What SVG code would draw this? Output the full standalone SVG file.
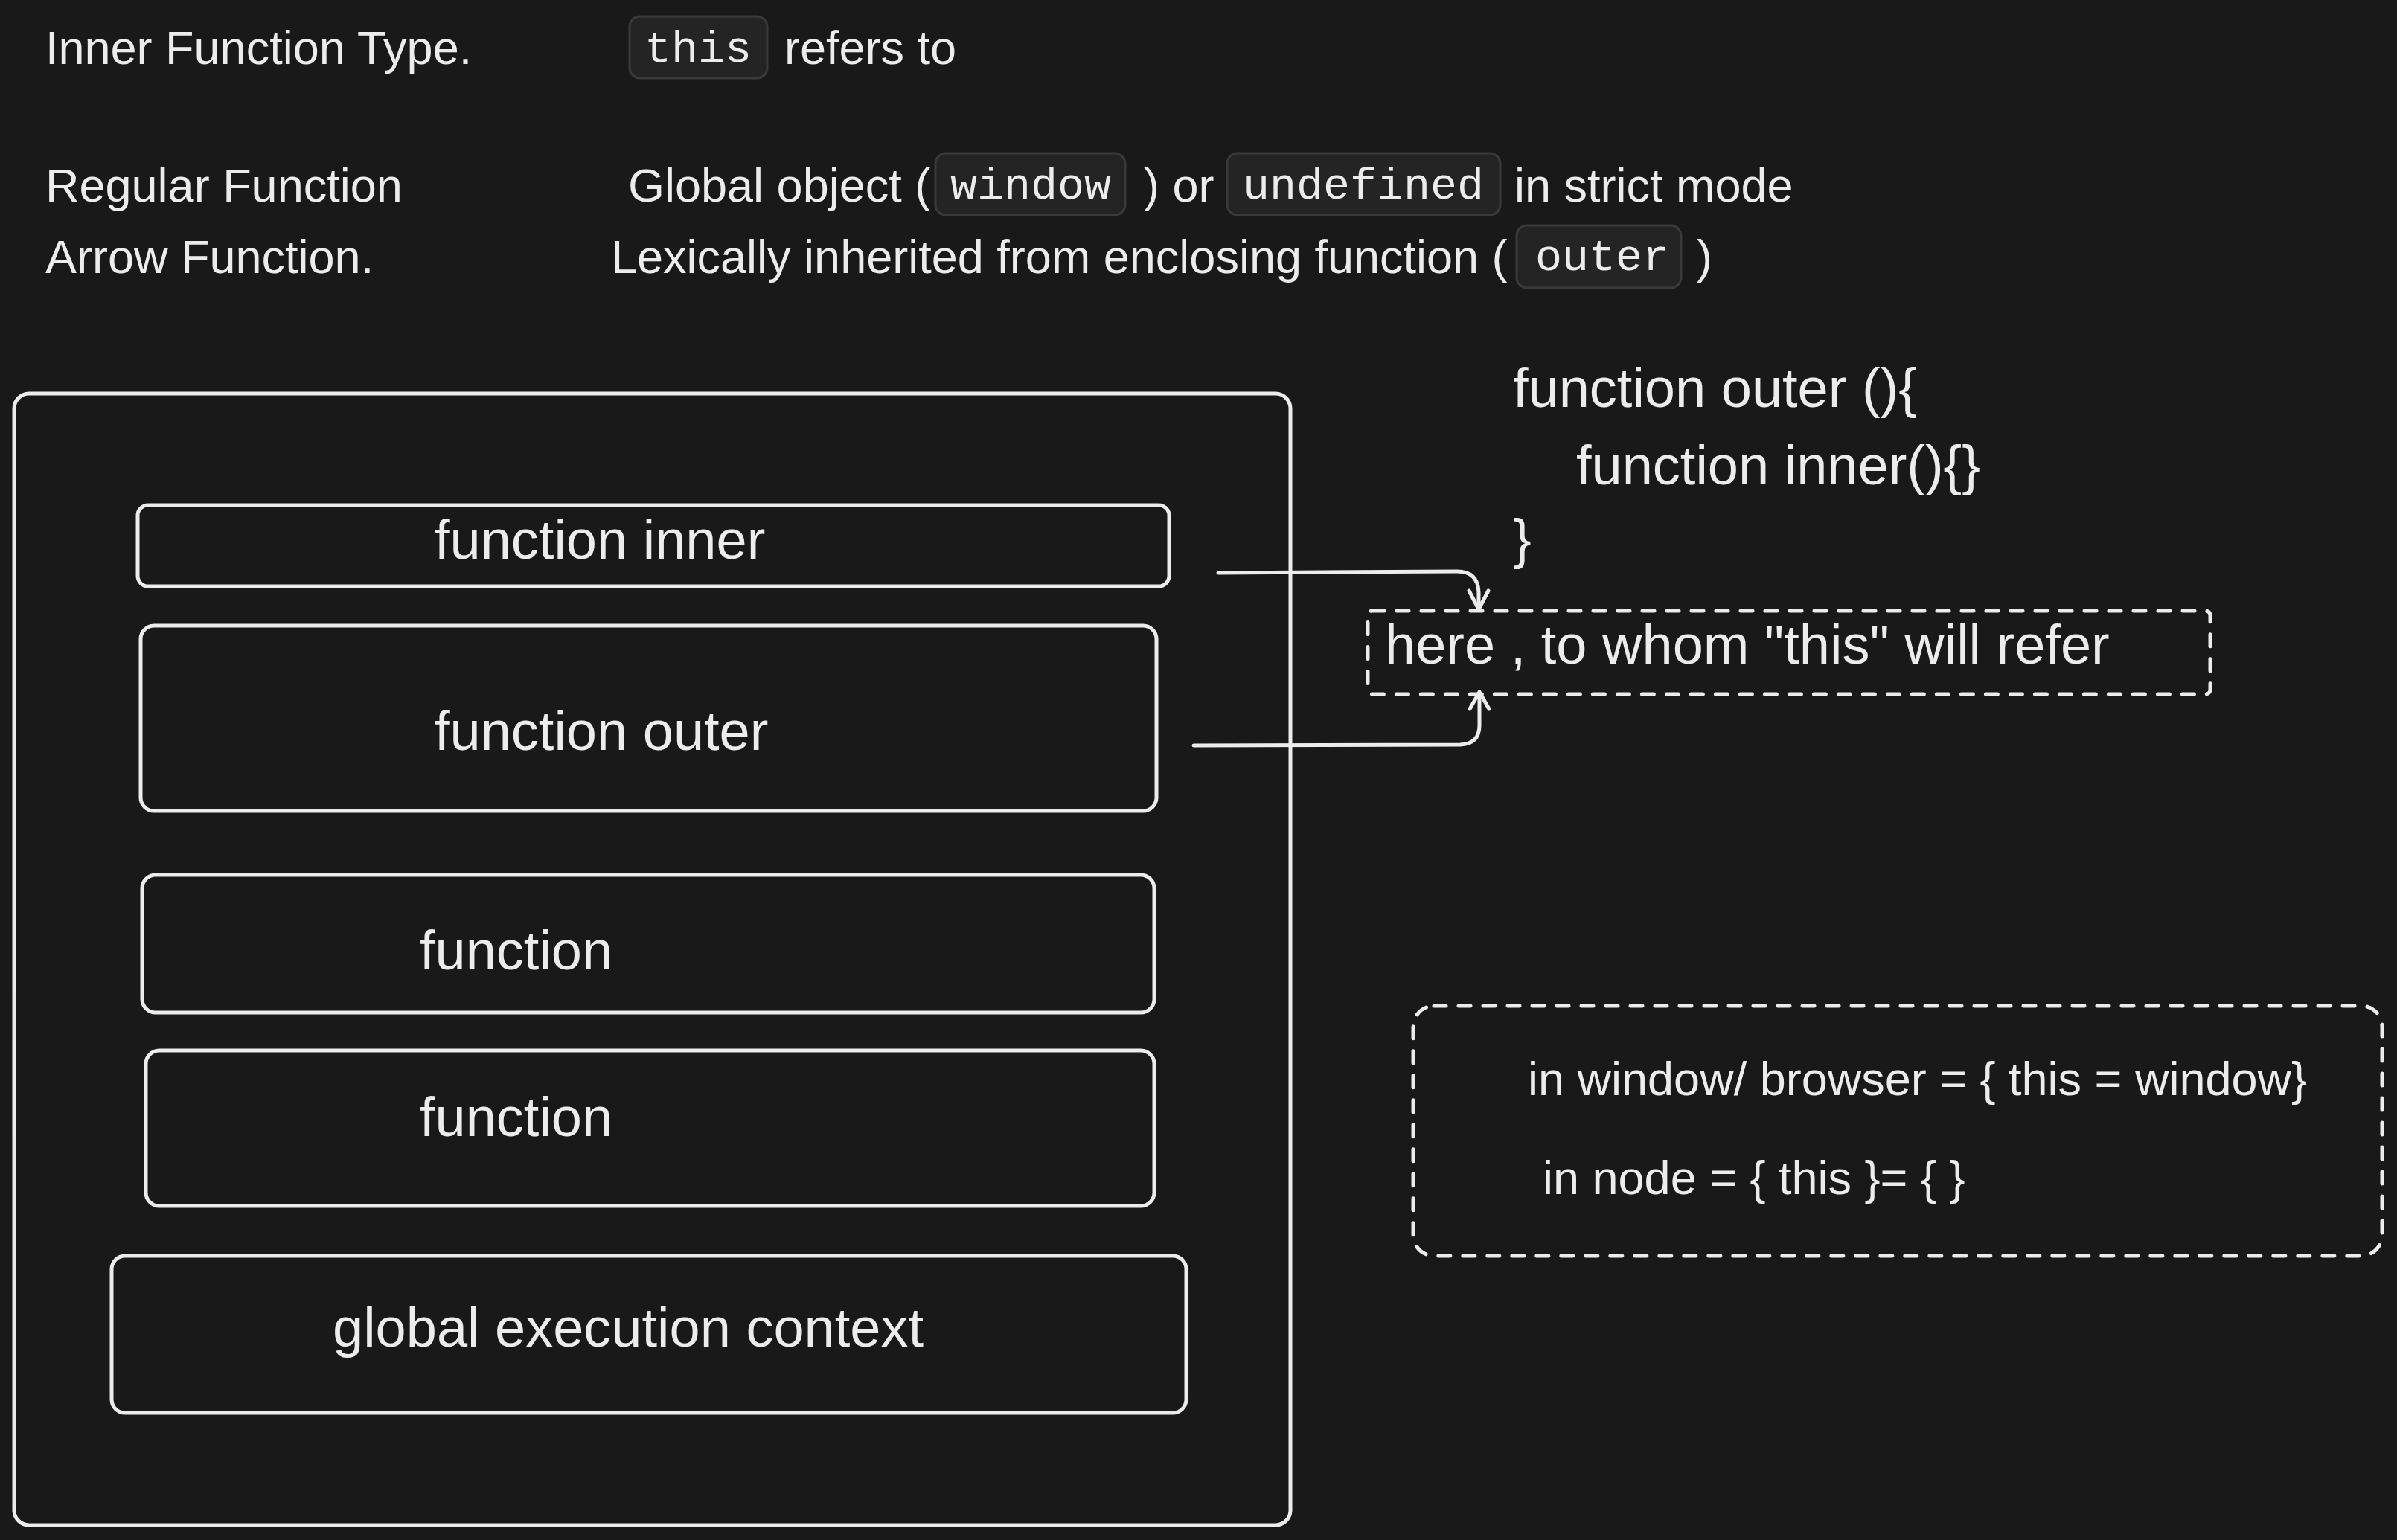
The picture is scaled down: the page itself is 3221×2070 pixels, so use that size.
<svg xmlns="http://www.w3.org/2000/svg" width="3221" height="2070" viewBox="0 0 3221 2070">
<defs>
<style>
.t{font-family:"Liberation Sans",Arial,sans-serif;fill:#ececec;}
.s63{font-size:63px;}
.s74{font-size:74px;}
.m{font-family:"Liberation Mono","DejaVu Sans Mono",monospace;font-size:60px;fill:#ececec;}
.code{fill:#242424;stroke:#3a3a3a;stroke-width:3;}
.box{fill:none;stroke:#ececec;stroke-width:5;}
.dash{fill:none;stroke:#ececec;stroke-width:5;stroke-dasharray:16 17;stroke-linecap:round;}
.conn{fill:none;stroke:#ececec;stroke-width:5;stroke-linecap:round;stroke-linejoin:round;}
</style>
</defs>
<rect x="0" y="0" width="3221" height="2070" fill="#191919"/>

<g id="table">
<text class="t s63" x="61" y="86">Inner Function Type.</text>
<rect class="code" x="846" y="22" width="185" height="83" rx="14"/>
<text class="m" x="866" y="83">this</text>
<text class="t s63" x="1054" y="86">refers to</text>

<text class="t s63" x="61" y="271">Regular Function</text>
<text class="t s63" x="844" y="271">Global object (</text>
<rect class="code" x="1257" y="206" width="255" height="83" rx="14"/>
<text class="m" x="1277" y="267">window</text>
<text class="t s63" x="1537" y="271">) or</text>
<rect class="code" x="1649" y="206" width="367" height="83" rx="14"/>
<text class="m" x="1670" y="267">undefined</text>
<text class="t s63" x="2035" y="271">in strict mode</text>

<text class="t s63" x="61" y="367">Arrow Function.</text>
<text class="t s63" x="821" y="367">Lexically inherited from enclosing function (</text>
<rect class="code" x="2038" y="303" width="221" height="84" rx="14"/>
<text class="m" x="2063" y="363">outer</text>
<text class="t s63" x="2280" y="367">)</text>
</g>

<g id="call-stack">
<rect class="box" x="19" y="529" width="1715" height="1521" rx="20"/>
</g>
<g id="function-inner">
<rect class="box" x="185" y="679" width="1386" height="109" rx="14"/>
<text class="t s74" x="584" y="751">function inner</text>
</g>
<g id="function-outer">
<rect class="box" x="189" y="841" width="1365" height="249" rx="18"/>
<text class="t s74" x="584" y="1008">function outer</text>
</g>
<g id="function-1">
<rect class="box" x="191" y="1176" width="1360" height="185" rx="18"/>
<text class="t s74" x="564" y="1303">function</text>
</g>
<g id="function-2">
<rect class="box" x="196" y="1412" width="1355" height="209" rx="18"/>
<text class="t s74" x="564" y="1527">function</text>
</g>
<g id="global-context">
<rect class="box" x="150" y="1688" width="1444" height="211" rx="18"/>
<text class="t s74" x="447" y="1810">global execution context</text>
</g>

<g id="code-snippet">
<text class="t s74" x="2033" y="547">function outer (){</text>
<text class="t s74" x="2118" y="651">function inner(){}</text>
<text class="t s74" x="2033" y="750">}</text>
</g>

<g id="this-target">
<rect class="dash" x="1838" y="821" width="1132" height="112" rx="6"/>
<text class="t s74" x="1861" y="892">here , to whom "this" will refer</text>
</g>

<g id="env-note">
<rect class="dash" x="1899" y="1352" width="1302" height="336" rx="28"/>
<text class="t s63" x="2053" y="1472">in window/ browser = { this = window}</text>
<text class="t s63" x="2073" y="1605">in node = { this }= { }</text>
</g>

<g id="connectors">
<path class="conn" d="M1637 770 L1958 768 Q1986 768 1987 796 L1987 818"/>
<path class="conn" d="M1974 794 L1987 819 L2000 794"/>
<path class="conn" d="M1604 1002 L1962 1001 Q1988 1000 1988 975 L1988 931"/>
<path class="conn" d="M1975 953 L1988 930 L2001 953"/>
</g>
</svg>
